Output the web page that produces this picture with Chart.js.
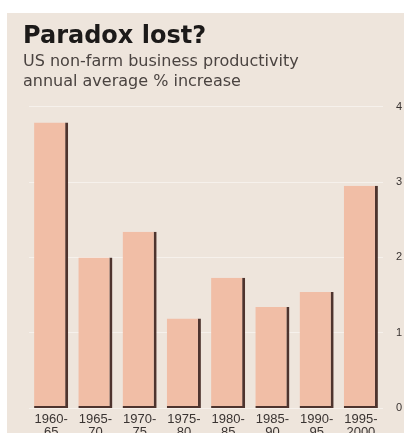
<!DOCTYPE html>
<html>
<head>
<meta charset="utf-8">
<script src="https://cdn.jsdelivr.net/npm/chart.js@4"></script>
<style>
  html, body { margin: 0; padding: 0; background: #fff; }
  #wrap { width: 404px; height: 433px; }
</style>
</head>
<body>
<div id="wrap"><canvas id="chart1" width="404" height="433"></canvas></div>
<script>
// data
const periods = [['1960-', '65'], ['1965-', '70'], ['1970-', '75'], ['1975-', '80'],
                 ['1980-', '85'], ['1985-', '90'], ['1990-', '95'], ['1995-', '2000']];
const growth = [3.79, 2.0, 2.34, 1.19, 1.73, 1.34, 1.54, 2.95];
const yTicks = [0, 1, 2, 3, 4];

// beige panel behind everything, white margin top/left
const panelBg = {
    id: 'panelBg',
    beforeDraw(chart) {
        const c = chart.ctx;
        c.save();
        c.fillStyle = '#ffffff';
        c.fillRect(0, 0, chart.width, chart.height);
        c.fillStyle = '#eee5dc';
        c.fillRect(7, 13, chart.width - 7, chart.height - 13);
        c.restore();
    }
};

const ctx1 = document.getElementById('chart1').getContext('2d');
const chart1 = new Chart(ctx1, {
    type: 'bar',
    data: {
        labels: periods,
        datasets: [{
            data: growth,
            backgroundColor: '#f1bea6',
            borderColor: '#4e342e',
            borderWidth: { top: 0, left: 0, right: 3, bottom: 2 },
            borderSkipped: false,
            barPercentage: 0.77,
            categoryPercentage: 1.0
        }]
    },
    options: {
        responsive: false,
        animation: false,
        layout: { padding: { left: 23, right: 0, top: 13, bottom: 0 } },
        plugins: {
            legend: { display: false },
            tooltip: { enabled: false },
            title: {
                display: true,
                text: 'Paradox lost?',
                align: 'start',
                color: '#1c1a19',
                font: { family: 'DejaVu Sans', size: 24, weight: 'bold', lineHeight: 1.2 },
                padding: { top: 9, bottom: 0 }
            },
            subtitle: {
                display: true,
                text: ['US non-farm business productivity', 'annual average % increase'],
                align: 'start',
                color: '#4a4340',
                font: { family: 'DejaVu Sans', size: 16, lineHeight: 1.25 },
                padding: { top: 1, bottom: 15 }
            }
        },
        scales: {
            x: {
                grid: { display: false, drawTicks: false },
                border: { display: false },
                ticks: {
                    color: '#3a3432',
                    font: { family: 'Liberation Sans', size: 13, lineHeight: 1.0 },
                    padding: 5,
                    maxRotation: 0,
                    autoSkip: false
                },
                afterFit(scale) { scale.height = 25; }
            },
            yl: {
                position: 'left',
                display: true,
                grid: { display: false },
                border: { display: false },
                ticks: { display: false },
                afterFit(scale) { scale.width = 6; }
            },
            y: {
                position: 'right',
                min: 0,
                max: 4,
                afterBuildTicks(scale) { scale.ticks = yTicks.map(v => ({ value: v })); },
                grid: { color: 'rgba(255,255,255,0.45)', drawTicks: false },
                border: { display: false },
                ticks: {
                    color: '#3a3432',
                    font: { family: 'Liberation Sans', size: 11 },
                    padding: 13
                },
                afterFit(scale) { scale.width = 21; }
            }
        }
    },
    plugins: [panelBg]
});
</script>
</body>
</html>
